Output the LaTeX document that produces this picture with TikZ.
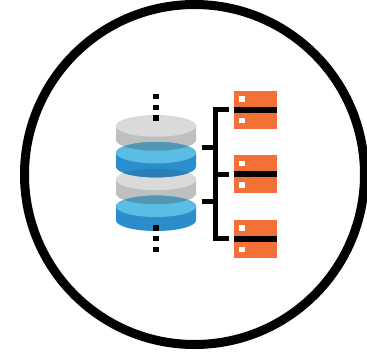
\documentclass[tikz,border=0pt]{standalone}
\usepackage{xcolor}
\usepackage{tikz}
\usetikzlibrary{calc}

\definecolor{diskgrey}{HTML}{DADADA}
\definecolor{sidegrey}{HTML}{BEBFBF}
\definecolor{diskblue}{HTML}{5ABDE3}
\definecolor{sideblue}{HTML}{2B8ECC}
\definecolor{mixteal}{HTML}{5296B4}
\definecolor{mixblue}{HTML}{2A7DB5}
\definecolor{srvorange}{HTML}{F37036}

\newcommand{\diskface}[1]{(156,#1) ellipse [x radius=40,y radius=10.7]}
\newcommand{\diskbody}[1]{(116,#1) -- (116,#1+14) arc[start angle=180,end angle=0,x radius=40,y radius=10.7] -- (196,#1) arc[start angle=0,end angle=-180,x radius=40,y radius=10.7] -- cycle}

\begin{document}
\begin{tikzpicture}[x=1pt,y=-1pt,
	server/.style={draw=none, fill=srvorange, minimum width=43pt, minimum height=37.7pt, inner sep=0pt},
	led/.style={fill=white, minimum size=5.5pt, inner sep=0pt},
	dot/.style={fill=black, minimum size=5.3pt, inner sep=0pt},
	wire/.style={line width=5pt, line cap=butt, line join=miter}]

\useasboundingbox (0,0) rectangle (367,354);
\draw[line width=9pt] (194.5,174.5) circle (170);

% disks
\fill[sidegrey] \diskbody{126};
\fill[diskgrey] \diskface{126};
\fill[sidegrey] \diskbody{179.5};
\fill[diskgrey] \diskface{179.5};
\fill[sideblue] \diskbody{152.7};
\fill[diskblue] \diskface{152.7};
\fill[sideblue] \diskbody{206.3};
\fill[diskblue] \diskface{206.3};
\begin{scope}
\clip \diskbody{126};
\fill[mixteal] \diskface{152.7};
\end{scope}
\begin{scope}
\clip \diskbody{152.7};
\fill[mixblue] \diskface{179.5};
\end{scope}
\begin{scope}
\clip \diskbody{179.5};
\fill[mixteal] \diskface{206.3};
\end{scope}

\foreach \name/\y in {dotA/96.5,dotB/107.2,dotC/118,dotD/228,dotE/238.7,dotF/249.5}
	\node[dot] (\name) at (156,\y) {};

% servers
\foreach \name/\y in {srvA/109.8,srvB/174.3,srvC/238.8} {
	\node[server] (\name) at (255.5,\y) {};
	\node[led] (\name up) at (242,\y-10.7) {};
	\node[led] (\name low) at (242,\y+10.7) {};
	\draw[line width=5.7pt] (\name.west) -- (\name.east);
}

\coordinate (stubA) at (202,147.5);
\coordinate (stubB) at (202,201);
\coordinate (busT) at (215.5,109.8);
\coordinate (busB) at (215.5,238.8);

\draw[wire,shorten <=5pt] (srvA.west) -- (busT) -- (busB) -- ($(srvC.west)+(-5,0)$);
\draw[wire,shorten <=5pt] (srvB.west) -- (busT |- srvB);
\draw[wire] (stubA) -- (busT |- stubA);
\draw[wire] (stubB) -- (busT |- stubB);
\end{tikzpicture}
\end{document}
